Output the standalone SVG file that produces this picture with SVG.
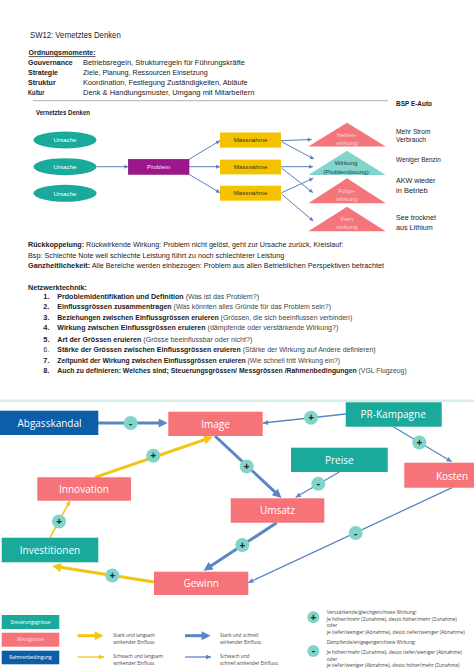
<svg xmlns="http://www.w3.org/2000/svg" width="474" height="670" viewBox="0 0 474 670">
<style>
.t{font-family:"Liberation Sans",Arial,sans-serif;fill:#222;}
.b{font-weight:bold;}
.g{fill:#444;font-weight:normal;}
.nl{font-family:"Open Sans","Noto Sans",sans-serif;font-size:10px;fill:#fff;text-anchor:middle;}
.sm{font-family:"Liberation Sans",Arial,sans-serif;font-size:6.2px;text-anchor:middle;}
.teal{fill:#19aa9b;}
.sal{fill:#f6737a;}
.dblue{fill:#0b5ea7;}
.cir{fill:#80d4ca;}
.sign{font-family:"Open Sans","Noto Sans",sans-serif;font-size:10px;font-weight:bold;fill:#222;text-anchor:middle;}
.bl{stroke:#5b86c4;fill:none;}
.yl{stroke:#f5c311;fill:none;}
.lg{font-family:"Open Sans","Noto Sans",sans-serif;font-size:4.8px;fill:#444;}
</style>
<defs>
<marker id="mbT" viewBox="0 0 10 10" refX="6" refY="5" markerWidth="10" markerHeight="9" markerUnits="userSpaceOnUse" orient="auto"><path d="M0,0 L10,5 L0,10 z" fill="#5b86c4"/></marker>
<marker id="mbS" viewBox="0 0 10 10" refX="10" refY="5" markerWidth="6" markerHeight="5" markerUnits="userSpaceOnUse" orient="auto"><path d="M0,0 L10,5 L0,10 z" fill="#5b86c4"/></marker>
<marker id="myT" viewBox="0 0 10 10" refX="6" refY="5" markerWidth="10" markerHeight="9" markerUnits="userSpaceOnUse" orient="auto"><path d="M0,0 L10,5 L0,10 z" fill="#f5c311"/></marker>
<marker id="myS" viewBox="0 0 10 10" refX="10" refY="5" markerWidth="6" markerHeight="5" markerUnits="userSpaceOnUse" orient="auto"><path d="M0,0 L10,5 L0,10 z" fill="#f5c311"/></marker>
<marker id="mt" viewBox="0 0 10 10" refX="10" refY="5" markerWidth="5" markerHeight="4" markerUnits="userSpaceOnUse" orient="auto"><path d="M0,0 L10,5 L0,10 z" fill="#5d7fbd"/></marker>
</defs>
<rect width="474" height="670" fill="#fff"/>

<!-- Header text -->
<g id="header">
<text class="t" x="30" y="38" font-size="8.5" fill="#333" textLength="90.7" lengthAdjust="spacingAndGlyphs">SW12: Vernetztes Denken</text>
<text class="t b" x="28.5" y="55.3" font-size="7.6" text-decoration="underline" textLength="67" lengthAdjust="spacingAndGlyphs">Ordnungsmomente:</text>
<text class="t b" x="28" y="65.3" font-size="7.6" textLength="44.7" lengthAdjust="spacingAndGlyphs">Gouvernance</text>
<text class="t" x="83" y="65.3" font-size="7.6" textLength="162" lengthAdjust="spacingAndGlyphs">Betriebsregeln, Strukturregeln für Führungskräfte</text>
<text class="t b" x="28" y="75.3" font-size="7.6" textLength="30" lengthAdjust="spacingAndGlyphs">Strategie</text>
<text class="t" x="83" y="75.3" font-size="7.6" textLength="124.7" lengthAdjust="spacingAndGlyphs">Ziele, Planung, Ressourcen Einsetzung</text>
<text class="t b" x="28" y="85.3" font-size="7.6" textLength="27.7" lengthAdjust="spacingAndGlyphs">Struktur</text>
<text class="t" x="83" y="85.3" font-size="7.6" textLength="164.7" lengthAdjust="spacingAndGlyphs">Koordination, Festlegung Zuständigkeiten, Abläufe</text>
<text class="t b" x="28" y="95.3" font-size="7.6" textLength="16.3" lengthAdjust="spacingAndGlyphs">Kultur</text>
<text class="t" x="83" y="95.3" font-size="7.6" textLength="171.3" lengthAdjust="spacingAndGlyphs">Denk &amp; Handlungsmuster, Umgang mit Mitarbeitern</text>
<line x1="33" y1="100.7" x2="388" y2="100.7" stroke="#999" stroke-width="0.8"/>
<text class="t b" x="396" y="106" font-size="7.6" textLength="36" lengthAdjust="spacingAndGlyphs">BSP E-Auto</text>
<text class="t b" x="36" y="115.3" font-size="6.3" textLength="54" lengthAdjust="spacingAndGlyphs">Vernetztes Denken</text>
</g>

<!-- Top diagram connectors -->
<g id="top-connectors" stroke="#5d7fbd" stroke-width="1" fill="none">
<line x1="96.7" y1="166.7" x2="128.3" y2="166.7" marker-end="url(#mt)"/>
<line x1="189" y1="159.3" x2="220" y2="140.7" marker-end="url(#mt)"/>
<line x1="189" y1="166.7" x2="220" y2="166.7" marker-end="url(#mt)"/>
<line x1="189" y1="174.3" x2="220" y2="192.7" marker-end="url(#mt)"/>
<line x1="281" y1="140.7" x2="311.7" y2="139.5" marker-end="url(#mt)"/>
<line x1="281.5" y1="141.7" x2="314" y2="159" marker-end="url(#mt)"/>
<line x1="281" y1="166.7" x2="313" y2="166.7" marker-end="url(#mt)"/>
<line x1="281.5" y1="168" x2="313" y2="192.7" marker-end="url(#mt)"/>
<line x1="281.5" y1="192.7" x2="313.3" y2="178.3" marker-end="url(#mt)"/>
<line x1="281.5" y1="194" x2="313.3" y2="221" marker-end="url(#mt)"/>
</g>

<!-- Top diagram nodes -->
<g id="ursache1"><ellipse cx="65" cy="140" rx="31.5" ry="8.5" class="teal"/><text class="sm" x="65" y="142.2" fill="#fff">Ursache</text></g>
<g id="ursache2"><ellipse cx="65" cy="166.7" rx="31.5" ry="8.5" class="teal"/><text class="sm" x="65" y="168.9" fill="#fff">Ursache</text></g>
<g id="ursache3"><ellipse cx="65" cy="193.3" rx="31.5" ry="8.5" class="teal"/><text class="sm" x="65" y="195.5" fill="#fff">Ursache</text></g>
<g id="problem"><rect x="128.3" y="159.3" width="60.7" height="15" fill="#9c168c" stroke="#7d1270" stroke-width="0.6"/><text class="sm" x="158.6" y="169" fill="#f8e0f2">Problem</text></g>
<g id="massnahme1"><rect x="220" y="132.5" width="61" height="15.2" fill="#f5c200"/><text class="sm" x="250.5" y="142.3" fill="#333">Massnahme</text></g>
<g id="massnahme2"><rect x="220" y="159.6" width="61" height="14.8" fill="#f5c200"/><text class="sm" x="250.5" y="169.2" fill="#333">Massnahme</text></g>
<g id="massnahme3"><rect x="220" y="185.7" width="61" height="15" fill="#f5c200"/><text class="sm" x="250.5" y="195.4" fill="#333">Massnahme</text></g>
<g id="nebenwirkung"><polygon points="347,122.7 308.3,146.5 385.7,146.5" fill="#f4767b"/><text class="sm" x="347" y="137" fill="#fbd3d4" font-size="5.8">Neben-</text><text class="sm" x="347" y="145" fill="#fbd3d4" font-size="5.8">wirkung</text></g>
<g id="wirkung"><polygon points="347,150.7 308.3,175 385.7,175" fill="#80d6cc"/><text class="sm" x="346" y="164.8" fill="#333" font-size="6">Wirkung</text><text class="sm" x="346" y="173.6" fill="#333" font-size="6">(Problemlösung)</text></g>
<g id="folgewirkung"><polygon points="347,178.3 308.3,203.3 385.7,203.3" fill="#f4767b"/><text class="sm" x="347" y="192.7" fill="#fbd3d4" font-size="5.8">Folge-</text><text class="sm" x="347" y="201" fill="#fbd3d4" font-size="5.8">wirkung</text></g>
<g id="fernwirkung"><polygon points="347,206.7 308.3,231.3 385.7,231.3" fill="#f4767b"/><text class="sm" x="347" y="221" fill="#fbd3d4" font-size="5.8">Fern</text><text class="sm" x="347" y="229.3" fill="#fbd3d4" font-size="5.8">wirkung</text></g>
<g id="effects">
<text class="t" x="396" y="133.5" font-size="8" textLength="34.5" lengthAdjust="spacingAndGlyphs">Mehr Strom</text>
<text class="t" x="396" y="142.3" font-size="8" textLength="30" lengthAdjust="spacingAndGlyphs">Verbrauch</text>
<text class="t" x="396" y="161.8" font-size="8" textLength="44.7" lengthAdjust="spacingAndGlyphs">Weniger Benzin</text>
<text class="t" x="396" y="182.8" font-size="8" textLength="39.3" lengthAdjust="spacingAndGlyphs">AKW wieder</text>
<text class="t" x="396" y="192.8" font-size="8" textLength="31.7" lengthAdjust="spacingAndGlyphs">in Betrieb</text>
<text class="t" x="396" y="220.1" font-size="8" textLength="40" lengthAdjust="spacingAndGlyphs">See trocknet</text>
<text class="t" x="396" y="230.1" font-size="8" textLength="36.7" lengthAdjust="spacingAndGlyphs">aus Lithium</text>
</g>

<!-- Middle text -->
<g id="text-body">
<text class="t" x="28" y="247" font-size="7.4" textLength="315.3" lengthAdjust="spacingAndGlyphs"><tspan class="b">Rückkoppelung:</tspan> Rückwirkende Wirkung: Problem nicht gelöst, geht zur Ursache zurück, Kreislauf:</text>
<text class="t" x="28" y="257.7" font-size="7.4" textLength="256.3" lengthAdjust="spacingAndGlyphs">Bsp: Schlechte Note weil schlechte Leistung führt zu noch schlechterer Leistung</text>
<text class="t" x="28" y="268.4" font-size="7.4" textLength="356" lengthAdjust="spacingAndGlyphs"><tspan class="b">Ganzheitlichekeit:</tspan> Alle Bereiche werden einbezogen: Problem aus allen Betrieblichen Perspektiven betrachtet</text>
<text class="t b" x="28" y="290.4" font-size="7.4" textLength="59" lengthAdjust="spacingAndGlyphs">Netzwerktechnik:</text>

<text class="t b" x="43.3" y="298.6" font-size="7.4">1.</text>
<text class="t b" x="57.3" y="298.6" font-size="7.4" textLength="201.7" lengthAdjust="spacingAndGlyphs">Prdoblemidentifikation und Definition <tspan class="g">(Was ist das Problem?)</tspan></text>

<text class="t b" x="43.3" y="309.3" font-size="7.4">2.</text>
<text class="t b" x="57.3" y="309.3" font-size="7.4" textLength="273.7" lengthAdjust="spacingAndGlyphs">Einflussgrössen zusammentragen <tspan class="g">(Was könnten alles Gründe für das Problem sein?)</tspan></text>

<text class="t b" x="43.3" y="319.9" font-size="7.4">3.</text>
<text class="t b" x="57.3" y="319.9" font-size="7.4" textLength="295" lengthAdjust="spacingAndGlyphs">Beziehungen zwischen Einflussgrössen eruieren <tspan class="g">(Grössen, die sich beeinflussen verbinden)</tspan></text>

<text class="t b" x="43.3" y="330.3" font-size="7.4">4.</text>
<text class="t b" x="57.3" y="330.3" font-size="7.4" textLength="281" lengthAdjust="spacingAndGlyphs">Wirkung zwischen Einflussgrössen eruieren <tspan class="g">(dämpfende oder verstärkende Wirkung?)</tspan></text>

<text class="t b" x="43.3" y="341.6" font-size="7.4">5.</text>
<text class="t b" x="57.3" y="341.6" font-size="7.4" textLength="195" lengthAdjust="spacingAndGlyphs">Art der Grössen eruieren <tspan class="g">(Grösse beeinflussbar oder nicht?)</tspan></text>

<text class="t g" x="43.3" y="352.3" font-size="7.4">6.</text>
<text class="t b" x="57.3" y="352.3" font-size="7.2" textLength="318.4" lengthAdjust="spacingAndGlyphs">Stärke der Grössen zwischen Einflussgrössen eruieren <tspan class="g">(Stärke der Wirkung auf Andere definieren)</tspan></text>

<text class="t b" x="43.3" y="362.9" font-size="7.4">7.</text>
<text class="t b" x="57.3" y="362.9" font-size="6.9" textLength="282.7" lengthAdjust="spacingAndGlyphs">Zeitpunkt der Wirkung zwischen Einflussgrössen eruieren <tspan class="g">(Wie schnell tritt Wirkung ein?)</tspan></text>

<text class="t b" x="43.3" y="372.9" font-size="7.4">8.</text>
<text class="t b" x="57.3" y="372.9" font-size="6.9" textLength="349.4" lengthAdjust="spacingAndGlyphs">Auch zu definieren: Welches sind; Steuerungsgrössen/ Messgrössen /Rahmenbedingungen <tspan class="g">(VGL Flugzeug)</tspan></text>
</g>

<line x1="0" y1="400.7" x2="474" y2="400.7" stroke="#d6ece8" stroke-width="2.5"/>

<!-- Bottom connectors -->
<g id="connectors">
<line class="bl" x1="98" y1="423" x2="164" y2="423" stroke-width="3" marker-end="url(#mbT)"/>
<line class="bl" x1="215" y1="436" x2="278.8" y2="495.6" stroke-width="3" marker-end="url(#mbT)"/>
<line class="yl" x1="95" y1="477.3" x2="209.5" y2="438" stroke-width="3" marker-end="url(#myT)"/>
<line class="bl" x1="276.7" y1="522.7" x2="206.6" y2="568.8" stroke-width="3" marker-end="url(#mbT)"/>
<line class="yl" x1="154" y1="582" x2="55.7" y2="566.6" stroke-width="3" marker-end="url(#myT)"/>
<line class="bl" x1="345.7" y1="414" x2="263" y2="423" stroke-width="1.3" marker-end="url(#mbS)"/>
<line class="bl" x1="393.3" y1="426.7" x2="451.7" y2="461.7" stroke-width="1.3" marker-end="url(#mbS)"/>
<line class="bl" x1="339.3" y1="472" x2="295.7" y2="497.3" stroke-width="1.3" marker-end="url(#mbS)"/>
<line class="bl" x1="452" y1="487.7" x2="248.3" y2="582.7" stroke-width="1.3" marker-end="url(#mbS)"/>
<line class="yl" x1="50" y1="537.7" x2="70" y2="500.7" stroke-width="1.5" marker-end="url(#myS)"/>

<circle class="cir" cx="130.7" cy="423" r="7"/><text class="sign" x="130.7" y="426.5">-</text>
<circle class="cir" cx="311" cy="417.7" r="7"/><text class="sign" x="311" y="421.2">+</text>
<circle class="cir" cx="419.3" cy="442.5" r="7"/><text class="sign" x="419.3" y="446">+</text>
<circle class="cir" cx="246.7" cy="466.5" r="7"/><text class="sign" x="246.7" y="470">+</text>
<circle class="cir" cx="153.3" cy="455.8" r="7"/><text class="sign" x="153.3" y="459.3">+</text>
<circle class="cir" cx="318.3" cy="483.8" r="7"/><text class="sign" x="318.3" y="487.3">-</text>
<circle class="cir" cx="355.7" cy="533" r="7"/><text class="sign" x="355.7" y="536.5">-</text>
<circle class="cir" cx="59" cy="521.5" r="7"/><text class="sign" x="59" y="525">+</text>
<circle class="cir" cx="242.3" cy="545" r="7"/><text class="sign" x="242.3" y="548.5">+</text>
<circle class="cir" cx="112.3" cy="575.5" r="7"/><text class="sign" x="112.3" y="579">+</text>
</g>

<!-- Bottom nodes -->
<g id="abgasskandal"><rect x="0" y="410.7" width="98.3" height="24.3" class="dblue"/><text class="nl" x="49.5" y="426.5">Abgasskandal</text></g>
<g id="image"><rect x="168.3" y="411.7" width="94.4" height="24.3" class="sal"/><text class="nl" x="215.5" y="427.5">Image</text></g>
<g id="pr-kampagne"><rect x="345.7" y="402.3" width="96" height="24.4" class="teal"/><text class="nl" x="393.2" y="418">PR-Kampagne</text></g>
<g id="preise"><rect x="291" y="447.7" width="96.7" height="24.3" class="teal"/><text class="nl" x="339.3" y="463.5">Preise</text></g>
<g id="kosten"><rect x="404.3" y="462.7" width="69.7" height="25" class="sal"/><text class="nl" x="452" y="479.5">Kosten</text></g>
<g id="innovation"><rect x="37.3" y="477.3" width="93.7" height="23.4" class="sal"/><text class="nl" x="84" y="492.5">Innovation</text></g>
<g id="umsatz"><rect x="230.7" y="498.3" width="93.6" height="24.4" class="sal"/><text class="nl" x="277.5" y="514">Umsatz</text></g>
<g id="investitionen"><rect x="1.7" y="537.7" width="96.6" height="24.6" class="teal"/><text class="nl" x="50" y="553.5">Investitionen</text></g>
<g id="gewinn"><rect x="154" y="571.7" width="94.3" height="23.3" class="sal"/><text class="nl" x="201.2" y="586.5">Gewinn</text></g>

<!-- Legend -->
<g id="legend">
<rect x="1.7" y="615" width="57.6" height="14" class="teal"/><text class="lg" x="30.5" y="623.6" style="fill:#fff" text-anchor="middle">Steuerungsgrösse</text>
<rect x="1.7" y="632.7" width="57.6" height="14" class="sal"/><text class="lg" x="30.5" y="641.3" style="fill:#fde0e1" text-anchor="middle">Messgrösse</text>
<rect x="1.7" y="650.7" width="57.6" height="13.6" class="dblue"/><text class="lg" x="30.5" y="659.2" style="fill:#fff" text-anchor="middle">Rahmenbedingung</text>

<line class="yl" x1="77.7" y1="635.7" x2="100" y2="635.7" stroke-width="3" marker-end="url(#myT)"/>
<line class="yl" x1="77.7" y1="657" x2="104" y2="657" stroke-width="1.3" marker-end="url(#myS)"/>
<line class="bl" x1="185" y1="635.7" x2="207" y2="635.7" stroke-width="3" marker-end="url(#mbT)"/>
<line class="bl" x1="185" y1="657" x2="211" y2="657" stroke-width="1.3" marker-end="url(#mbS)"/>

<text class="lg" x="113.3" y="637">Stark und langsam</text>
<text class="lg" x="113.3" y="644">wirkender Einfluss</text>
<text class="lg" x="113.3" y="658">Schwach und langsam</text>
<text class="lg" x="113.3" y="665">wirkender Einfluss</text>
<text class="lg" x="220" y="637">Stark und schnell</text>
<text class="lg" x="220" y="644">wirkender Einfluss</text>
<text class="lg" x="220" y="658">Schwach und</text>
<text class="lg" x="220" y="665">schnell wirkender Einfluss</text>

<circle class="cir" cx="313.3" cy="617.3" r="6"/><text class="sign" x="313.3" y="620.6" font-size="9">+</text>
<circle class="cir" cx="313.3" cy="651" r="6"/><text class="sign" x="313.3" y="654.3" font-size="9">-</text>
<text class="lg" x="326.7" y="614.4" textLength="90" lengthAdjust="spacingAndGlyphs">Verstärkende/gleichgerichtete Wirkung:</text>
<text class="lg" x="326.7" y="621" textLength="130" lengthAdjust="spacingAndGlyphs">Je höher/mehr (Zunahme), desto höher/mehr (Zunahme)</text>
<text class="lg" x="326.7" y="627.4">oder</text>
<text class="lg" x="326.7" y="634" textLength="138" lengthAdjust="spacingAndGlyphs">je tiefer/weniger (Abnahme), desto tiefer/weniger (Abnahme)</text>
<text class="lg" x="326.7" y="644.4" textLength="89" lengthAdjust="spacingAndGlyphs">Dämpfende/entgegengerichtete Wirkung:</text>
<text class="lg" x="326.7" y="654.4" textLength="135" lengthAdjust="spacingAndGlyphs">Je höher/mehr (Zunahme), desto tiefer/weniger (Abnahme)</text>
<text class="lg" x="326.7" y="661">oder</text>
<text class="lg" x="326.7" y="667.4" textLength="132.7" lengthAdjust="spacingAndGlyphs">je tiefer/weniger (Abnahme), desto höher/mehr (Zunahme)</text>
</g>
</svg>
